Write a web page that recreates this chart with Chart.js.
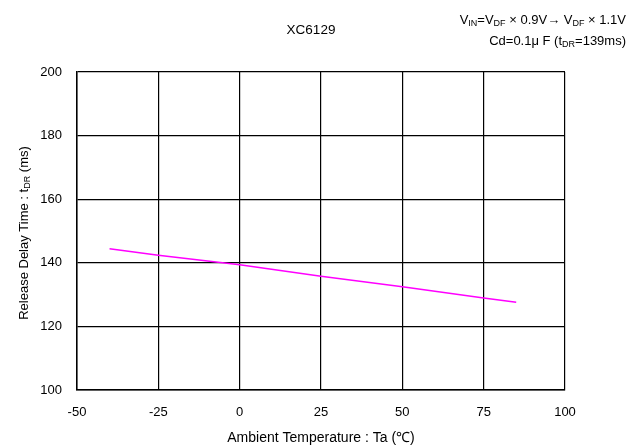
<!DOCTYPE html>
<html>
<head>
<meta charset="utf-8">
<script src="https://cdn.jsdelivr.net/npm/chart.js@4/dist/chart.umd.min.js"></script>
<style>
  html, body { margin: 0; padding: 0; background: #fff; }
  #wrap { width: 643px; height: 446px; }
</style>
</head>
<body>
<div id="wrap"><canvas id="chart" width="643" height="446"></canvas></div>
<script>
// values
const temps = [-40, -25, 0, 25, 50, 75, 85];
const delays = [144.4, 142.4, 139.4, 135.8, 132.5, 128.9, 127.6];
const xTicks = [-50, -25, 0, 25, 50, 75, 100];
const yTicks = [100, 120, 140, 160, 180, 200];

const FONT = "'Liberation Sans', Arial, sans-serif";

// draws a line of text made of [text, isSub] parts
function drawRuns(ctx, runs, x, y, size, align) {
    const subSize = Math.round(size * 0.72);
    let total = 0;
    runs.forEach(r => {
        ctx.font = (r[1] ? subSize : size) + "px " + FONT;
        total += ctx.measureText(r[0]).width;
    });
    let cx = x;
    if (align === "center") cx = x - total / 2;
    if (align === "right") cx = x - total;
    ctx.textAlign = "left";
    ctx.textBaseline = "middle";
    runs.forEach(r => {
        ctx.font = (r[1] ? subSize : size) + "px " + FONT;
        ctx.fillText(r[0], cx, r[1] ? y + size * 0.28 : y);
        cx += ctx.measureText(r[0]).width;
    });
}

const textPlugin = {
    id: "texts",
    afterDraw(chart) {
        const ctx = chart.ctx;
        const area = chart.chartArea;
        ctx.save();
        ctx.fillStyle = "#000";

        drawRuns(ctx, [["XC6129", false]], 311, 30, 13.5, "center");

        drawRuns(ctx, [["V", false], ["IN", true], ["=V", false], ["DF", true],
            [" \u00d7 0.9V\u2192 V", false], ["DF", true], [" \u00d7 1.1V", false]], 626, 20, 13, "right");
        drawRuns(ctx, [["Cd=0.1\u03bc F (t", false], ["DR", true], ["=139ms)", false]], 626, 41, 13, "right");

        drawRuns(ctx, [["Ambient Temperature : Ta (\u2103)", false]], (area.left + area.right) / 2, 438, 14, "center");

        ctx.translate(24, 233);
        ctx.rotate(-Math.PI / 2);
        drawRuns(ctx, [["Release Delay Time : t", false], ["DR", true], [" (ms)", false]], 0, 0, 13, "center");
        ctx.restore();
    }
};

new Chart(document.getElementById("chart"), {
    type: "line",
    data: {
        datasets: [{
            data: temps.map((t, i) => ({ x: t, y: delays[i] })),
            borderColor: "#ff00ff",
            borderWidth: 1.5,
            pointRadius: 0,
            tension: 0,
            fill: false
        }]
    },
    options: {
        responsive: false,
        animation: false,
        layout: { padding: { top: 72, right: 78, left: 0, bottom: 0 } },
        plugins: { legend: { display: false }, tooltip: { enabled: false } },
        scales: {
            x: {
                type: "linear",
                min: -50,
                max: 100,
                afterBuildTicks: axis => { axis.ticks = xTicks.map(v => ({ value: v })); },
                afterFit: axis => { axis.height = 56; },
                grid: { color: "#000", lineWidth: 1.2, drawTicks: false },
                border: { color: "#000", width: 1.5 },
                ticks: { color: "#000", padding: 15, font: { family: FONT, size: 13 } }
            },
            y: {
                min: 100,
                max: 200,
                afterBuildTicks: axis => { axis.ticks = yTicks.map(v => ({ value: v })); },
                afterFit: axis => { axis.width = 77; },
                grid: { color: "#000", lineWidth: 1.2, drawTicks: false },
                border: { color: "#000", width: 1.5 },
                ticks: { color: "#000", padding: 15, font: { family: FONT, size: 13 } }
            }
        }
    },
    plugins: [textPlugin]
});
</script>
</body>
</html>
